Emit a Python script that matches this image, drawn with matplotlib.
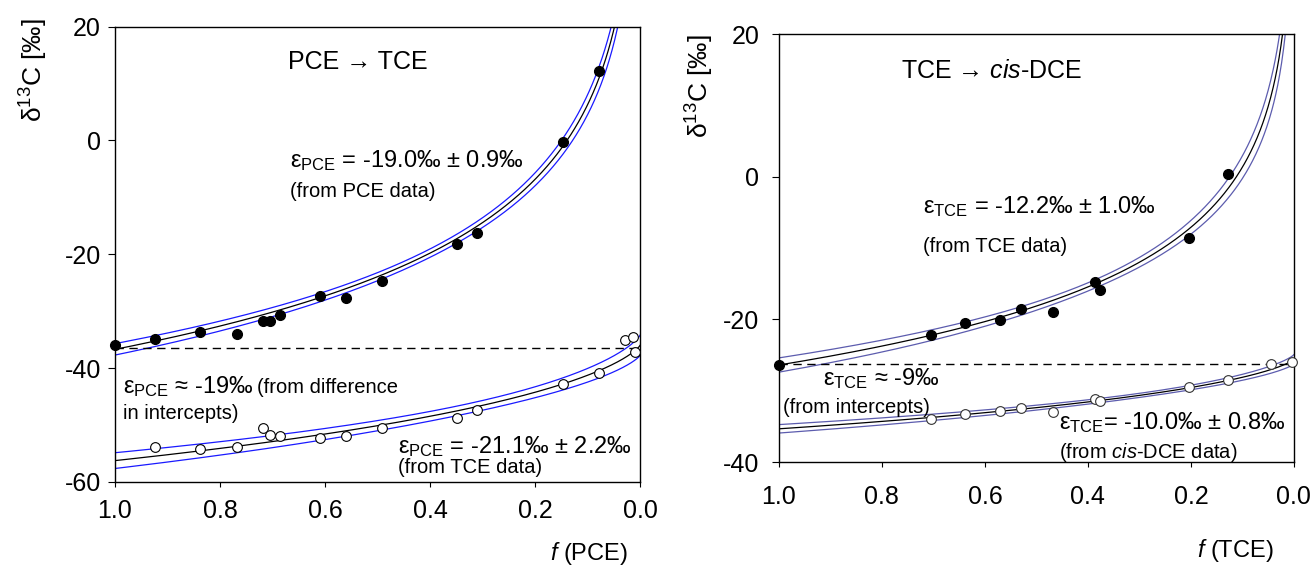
import numpy as np
import matplotlib
matplotlib.use("Agg")
import matplotlib.pyplot as plt

plt.rcParams['font.family'] = ['Liberation Sans', 'DejaVu Sans']
plt.rcParams['mathtext.fontset'] = 'custom'
plt.rcParams['mathtext.rm'] = 'Liberation Sans'
plt.rcParams['mathtext.it'] = 'Liberation Sans:italic'
plt.rcParams['axes.unicode_minus'] = False

# --- data ---
# left panel: PCE -> TCE
f_pce = [1.0, 0.923, 0.838, 0.767, 0.718, 0.705, 0.686, 0.610, 0.561, 0.491,
         0.350, 0.311, 0.147, 0.078]
d13c_pce = [-35.9, -34.8, -33.7, -34.0, -31.7, -31.8, -30.6, -27.3, -27.7, -24.7,
            -18.2, -16.3, -0.3, 12.2]
f_pce_tce = [0.923, 0.838, 0.767, 0.718, 0.705, 0.686, 0.610, 0.561, 0.491,
             0.350, 0.311, 0.147, 0.078, 0.029, 0.015, 0.010]
d13c_tce_prod = [-53.8, -54.2, -53.8, -50.5, -51.8, -52.0, -52.2, -52.0, -50.5,
                 -48.8, -47.3, -42.7, -40.8, -35.0, -34.5, -37.2]

# right panel: TCE -> cis-DCE
f_tce = [1.0, 0.704, 0.639, 0.570, 0.530, 0.468, 0.386, 0.377, 0.204, 0.128]
d13c_tce = [-26.4, -22.2, -20.5, -20.1, -18.5, -18.9, -14.8, -15.85, -8.6, 0.4]
f_tce_dce = [0.704, 0.639, 0.570, 0.530, 0.468, 0.386, 0.377, 0.204, 0.128,
             0.044, 0.004]
d13c_dce = [-33.9, -33.2, -32.8, -32.4, -33.0, -31.1, -31.5, -29.5, -28.5,
            -26.2, -26.0]

# Rayleigh fit parameters (epsilon from the labels, initial delta)
eps_pce, d0_pce = -19.0, -36.7
eps_pce_prod, d0_pce_prod = -21.1, -35.9
eps_tce, d0_tce = -12.2, -26.4
eps_tce_prod, d0_tce_prod = -10.0, -25.6
intercept_left = -36.4
intercept_right = -26.3

x_ticks = [1.0, 0.8, 0.6, 0.4, 0.2, 0.0]
x_tick_labels = ["1.0", "0.8", "0.6", "0.4", "0.2", "0.0"]


def shape_substrate(f, a):
    return f ** (a - 1)


def shape_product(f, a):
    return (1 - f ** a) / (1 - f)


def rayleigh_curve(shape, eps, d0, f, d, t):
    """Rayleigh curve + confidence band (delta method, residuals of the data)"""
    f = np.asarray(f, float)
    y = np.asarray(d, float) + 1000
    a = 1 + eps / 1000
    A = d0 + 1000

    def jac(x):
        h = 1e-6
        return np.column_stack([shape(x, a),
                                A * (shape(x, a + h) - shape(x, a - h)) / (2 * h)])

    J = jac(f)
    s2 = np.sum((y - A * shape(f, a)) ** 2) / (len(f) - 2)
    cov = s2 * np.linalg.inv(J.T @ J)
    ff = np.linspace(1e-4, 0.99999, 800)
    Jf = jac(ff)
    half = t * np.sqrt(np.einsum('ij,jk,ik->i', Jf, cov, Jf))
    mid = A * shape(ff, a) - 1000
    return ff, mid, half


def draw_fit(ax, ff, mid, half, band_color):
    ax.plot(ff, mid, color="black", lw=0.9)
    ax.plot(ff, mid + half, color=band_color, lw=0.9)
    ax.plot(ff, mid - half, color=band_color, lw=0.9)


def style_axes(ax, ypad, xpad):
    ax.set_xlim(1.0, 0.0)
    ax.set_xticks(x_ticks)
    ax.set_xticklabels(x_tick_labels)
    ax.tick_params(labelsize=18, top=False, right=False)
    ax.tick_params(axis="x", direction="out", length=3.6, width=0.8, pad=xpad)
    ax.tick_params(axis="y", direction="out", length=5, width=0.8, pad=ypad)
    for s in ax.spines.values():
        s.set_linewidth(1.0)


fig = plt.figure(figsize=(13.14, 5.69), dpi=100)

# left panel
ax1 = fig.add_axes([0.0875, 0.1529, 0.3999, 0.8005])
draw_fit(ax1, *rayleigh_curve(shape_substrate, eps_pce, d0_pce, f_pce, d13c_pce, 2.2), "#1a1aff")
draw_fit(ax1, *rayleigh_curve(shape_product, eps_pce_prod, d0_pce_prod,
                              f_pce_tce, d13c_tce_prod, 2.2), "#1a1aff")
ax1.plot([1.0, 0.0], [intercept_left] * 2, color="black", lw=1.0, dashes=(6, 4))
ax1.plot(f_pce, d13c_pce, "o", color="black", ms=7, zorder=5, clip_on=False)
ax1.plot(f_pce_tce, d13c_tce_prod, "o", mfc="white", mec="black", mew=0.8, ms=7,
         zorder=5, clip_on=False)
style_axes(ax1, 5, 9)
ax1.set_ylim(-60, 20)
ax1.set_yticks([-60, -40, -20, 0, 20])

ax1.text(0.671, 12.6, "PCE → TCE", fontsize=18)
ax1.text(0.667, -4.7, "ε$_{\\mathrm{PCE}}$ = -19.0‰ ± 0.9‰", fontsize=17)
ax1.text(0.667, -9.9, "(from PCE data)", fontsize=14.5)
ax1.text(0.985, -44.4, "ε$_{\\mathrm{PCE}}$ ≈ -19‰", fontsize=17)
ax1.text(0.730, -44.4, "(from difference", fontsize=14.5)
ax1.text(0.985, -49.0, "in intercepts)", fontsize=14.5)
ax1.text(0.461, -55.0, "ε$_{\\mathrm{PCE}}$ = -21.1‰ ± 2.2‰", fontsize=17)
ax1.text(0.461, -58.4, "(from TCE data)", fontsize=14.5)

# right panel
ax2 = fig.add_axes([0.5928, 0.1880, 0.3919, 0.7522])
draw_fit(ax2, *rayleigh_curve(shape_substrate, eps_tce, d0_tce, f_tce, d13c_tce, 1.6), "#5c5cae")
draw_fit(ax2, *rayleigh_curve(shape_product, eps_tce_prod, d0_tce_prod,
                              f_tce_dce, d13c_dce, 2.2), "#5c5cae")
ax2.plot([1.0, 0.0], [intercept_right] * 2, color="black", lw=1.0, dashes=(6, 4))
ax2.plot(f_tce, d13c_tce, "o", color="black", ms=7, zorder=5, clip_on=False)
ax2.plot(f_tce_dce, d13c_dce, "o", mfc="white", mec="#333333", mew=0.8, ms=7,
         zorder=5, clip_on=False)
style_axes(ax2, 9, 13)
ax2.set_ylim(-40, 20)
ax2.set_yticks([-40, -20, 0, 20])

ax2.text(0.763, 13.8, "TCE → $\\mathit{cis}$-DCE", fontsize=18)
ax2.text(0.720, -5.1, "ε$_{\\mathrm{TCE}}$ = -12.2‰ ± 1.0‰", fontsize=17)
ax2.text(0.720, -10.5, "(from TCE data)", fontsize=14.5)
ax2.text(0.915, -29.2, "ε$_{\\mathrm{TCE}}$ ≈ -9‰", fontsize=17)
ax2.text(0.992, -33.1, "(from intercepts)", fontsize=14.5)
ax2.text(0.456, -35.4, "ε$_{\\mathrm{TCE}}$= -10.0‰ ± 0.8‰", fontsize=17)
ax2.text(0.456, -39.4, "(from $\\mathit{cis}$-DCE data)", fontsize=14.5)

# axis labels
fig.text(0.448, 0.028, "$\\mathit{f}$ (PCE)", fontsize=17, ha="center", va="center")
fig.text(0.940, 0.033, "$\\mathit{f}$ (TCE)", fontsize=17, ha="center", va="center")
fig.text(0.0259, 0.877, "δ$^{13}$C [‰]", fontsize=19, rotation=90, ha="center", va="center")
fig.text(0.533, 0.849, "δ$^{13}$C [‰]", fontsize=19, rotation=90, ha="center", va="center")

fig.savefig("out.png", dpi=100)
